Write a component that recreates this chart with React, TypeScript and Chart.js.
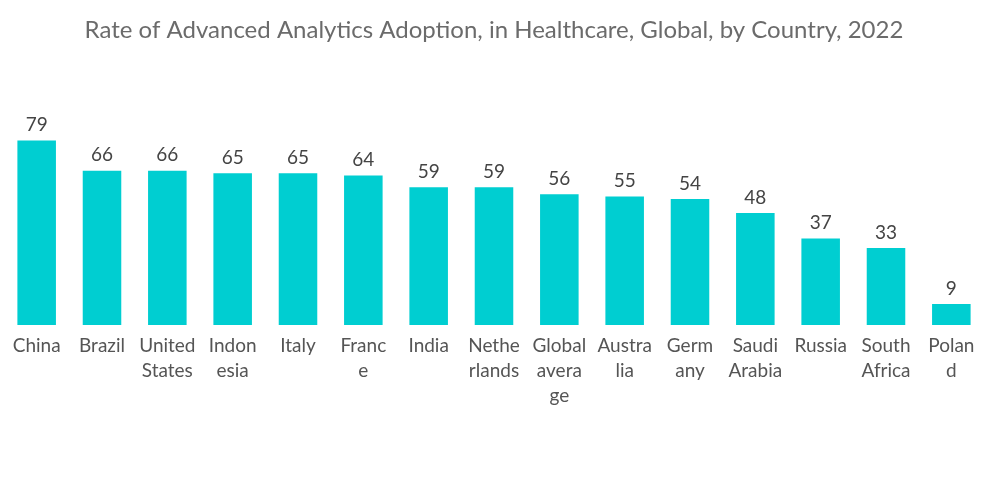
import React, { useEffect, useRef } from "react";
import { Chart, registerables } from "chart.js";

Chart.register(...registerables);

const titleText = "Rate of Advanced Analytics Adoption, in Healthcare, Global, by Country, 2022";
const categories: (string | string[])[] = [
  "China",
  "Brazil",
  ["United", "States"],
  ["Indon", "esia"],
  "Italy",
  ["Franc", "e"],
  "India",
  ["Nethe", "rlands"],
  ["Global", "avera", "ge"],
  ["Austra", "lia"],
  ["Germ", "any"],
  ["Saudi", "Arabia"],
  "Russia",
  ["South", "Africa"],
  ["Polan", "d"],
];
const adoptionRate = [79, 66, 66, 65, 65, 64, 59, 59, 56, 55, 54, 48, 37, 33, 9];

const FONT = "Lato, 'Open Sans', sans-serif";

const valueLabels = {
  id: "valueLabels",
  afterDatasetsDraw(chart: any) {
    const ctx = chart.ctx;
    const meta = chart.getDatasetMeta(0);
    ctx.save();
    ctx.font = `19px ${FONT}`;
    ctx.fillStyle = "#444444";
    ctx.textAlign = "center";
    ctx.textBaseline = "bottom";
    meta.data.forEach((bar: any, i: number) => {
      ctx.fillText(String(chart.data.datasets[0].data[i]), bar.x, bar.y - 6);
    });
    ctx.restore();
  },
};

export default function App() {
  const ref = useRef<HTMLCanvasElement | null>(null);
  useEffect(() => {
    if (!ref.current) return;
    const chart = new Chart(ref.current, {
      type: "bar",
      data: {
        labels: categories,
        datasets: [
          {
            data: adoptionRate,
            backgroundColor: "#00CED1",
            barPercentage: 0.59,
            categoryPercentage: 1,
          },
        ],
      },
      options: {
        animation: false,
        responsive: false,
        maintainAspectRatio: false,
        layout: { padding: { left: 4, right: 16, top: 0, bottom: 88 } },
        plugins: {
          legend: { display: false },
          tooltip: { enabled: false },
          title: {
            display: true,
            text: titleText,
            color: "#6b6b6b",
            font: { family: FONT, size: 24, weight: "normal" },
            padding: { top: 16, bottom: 70 },
          },
        },
        scales: {
          x: {
            grid: { display: false, drawTicks: false },
            border: { display: false },
            ticks: {
              color: "#555555",
              font: { family: FONT, size: 19, lineHeight: "25px" } as any,
              padding: 8,
              maxRotation: 0,
              autoSkip: false,
            },
          },
          y: {
            display: false,
            min: 0,
            max: 90,
          },
        },
      },
      plugins: [valueLabels],
    });
    return () => chart.destroy();
  }, []);
  return (
    <div style={{ position: "fixed", left: 0, top: 0, width: 1000, height: 504, background: "#fff" }}>
      <canvas ref={ref} width={1000} height={504} style={{ width: 1000, height: 504 }} />
    </div>
  );
}
